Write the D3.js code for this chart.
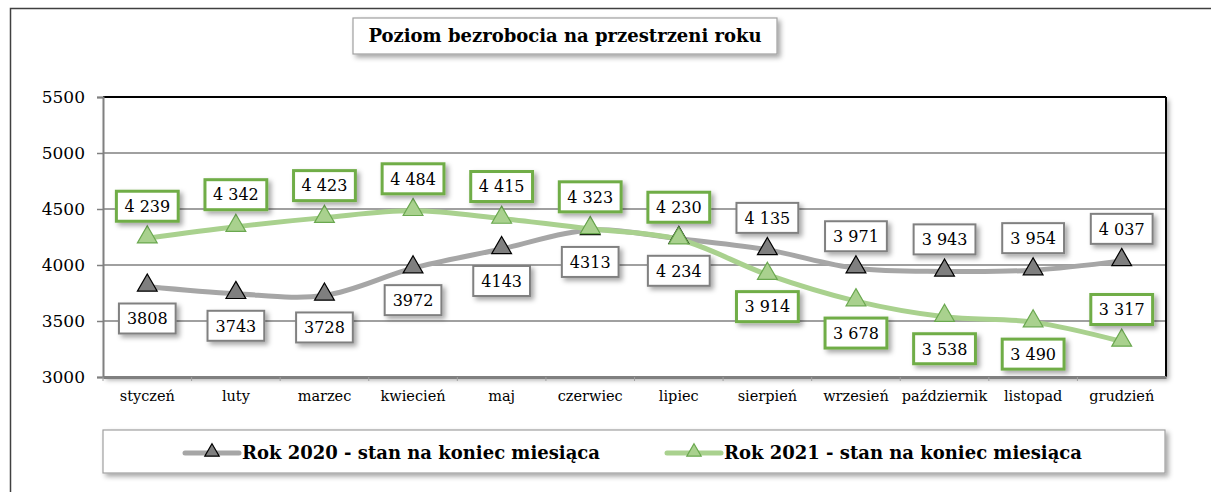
<!DOCTYPE html>
<html>
<head>
<meta charset="utf-8">
<script src="https://cdn.jsdelivr.net/npm/d3@7"></script>
<style>
  body { margin: 0; background: #fff; }
  svg { display: block; }
  svg text { font-family: "DejaVu Serif", "Liberation Serif", serif; fill: #000; }
</style>
</head>
<body>
<script>
// dane
var months = ["styczeń", "luty", "marzec", "kwiecień", "maj", "czerwiec", "lipiec", "sierpień", "wrzesień", "październik", "listopad", "grudzień"];
var values2020 = [3808, 3743, 3728, 3972, 4143, 4313, 4234, 4135, 3971, 3943, 3954, 4037];
var values2021 = [4239, 4342, 4423, 4484, 4415, 4323, 4230, 3914, 3678, 3538, 3490, 3317];
var labels2020 = ["3808", "3743", "3728", "3972", "4143", "4313", "4 234", "4 135", "3 971", "3 943", "3 954", "4 037"];
var labels2021 = ["4 239", "4 342", "4 423", "4 484", "4 415", "4 323", "4 230", "3 914", "3 678", "3 538", "3 490", "3 317"];
// 1 = etykieta nad punktem, -1 = pod punktem
var side2020 = [-1, -1, -1, -1, -1, -1, -1, 1, 1, 1, 1, 1];
var side2021 = [1, 1, 1, 1, 1, 1, 1, -1, -1, -1, -1, 1];
var yTicks = [3000, 3500, 4000, 4500, 5000, 5500];
var title = "Poziom bezrobocia na przestrzeni roku";
var seriesNames = ["Rok 2020 - stan na koniec miesiąca", "Rok 2021 - stan na koniec miesiąca"];

var W = 1211, H = 492;
var plot = {left: 103, top: 97, right: 1166, bottom: 377};
var SERIF = '"DejaVu Serif", "Liberation Serif", serif';

var svg = d3.select("body").append("svg").attr("width", W).attr("height", H);

var defs = svg.append("defs");
var f = defs.append("filter").attr("id", "shadow").attr("x", "-20%").attr("y", "-30%").attr("width", "150%").attr("height", "180%");
f.append("feDropShadow").attr("dx", 3).attr("dy", 3).attr("stdDeviation", 2.5).attr("flood-color", "#000").attr("flood-opacity", 0.35);

// ramka zewnętrzna
svg.append("rect").attr("x", 10.5).attr("y", 8.5).attr("width", 1220).attr("height", 500)
  .attr("fill", "#fff").attr("stroke", "#404040").attr("stroke-width", 1.5);

var x = d3.scaleBand().domain(months).range([plot.left, plot.right]);
var y = d3.scaleLinear().domain([3000, 5500]).range([plot.bottom, plot.top]);
var cx = function (m) { return x(m) + x.bandwidth() / 2; };

// obszar wykresu z cieniem
svg.append("rect").attr("x", plot.left).attr("y", plot.top)
  .attr("width", plot.right - plot.left).attr("height", plot.bottom - plot.top)
  .attr("fill", "#fff").attr("filter", "url(#shadow)");

// linie siatki
svg.append("g").selectAll("line").data(yTicks.filter(function (t) { return t > 3000 && t < 5500; }))
  .enter().append("line")
  .attr("x1", plot.left).attr("x2", plot.right)
  .attr("y1", function (d) { return y(d); }).attr("y2", function (d) { return y(d); })
  .attr("stroke", "#808080").attr("stroke-width", 1.5);

// górna i prawa krawędź
svg.append("line").attr("x1", plot.left).attr("x2", plot.right).attr("y1", y(5500)).attr("y2", y(5500))
  .attr("stroke", "#000").attr("stroke-width", 2);
svg.append("line").attr("x1", plot.right).attr("x2", plot.right).attr("y1", plot.top).attr("y2", plot.bottom)
  .attr("stroke", "#000").attr("stroke-width", 2);

// oś Y
var yAxis = svg.append("g").attr("transform", "translate(" + plot.left + ",0)")
  .call(d3.axisLeft(y).tickValues(yTicks).tickSize(6).tickPadding(12).tickFormat(d3.format("d")));
yAxis.attr("font-family", SERIF);
yAxis.select(".domain").attr("stroke", "#808080").attr("stroke-width", 2);
yAxis.selectAll(".tick line").attr("stroke", "#808080").attr("stroke-width", 1.5);
yAxis.selectAll("text").style("font-size", "17px").attr("fill", "#000");

// oś X
var xAxis = svg.append("g").attr("transform", "translate(0," + plot.bottom + ")")
  .call(d3.axisBottom(x).tickSize(4).tickPadding(10).tickSizeOuter(0));
xAxis.attr("font-family", SERIF);
xAxis.select(".domain").attr("stroke", "#808080").attr("stroke-width", 3);
xAxis.selectAll(".tick line").attr("stroke", "#a0a0a0").attr("stroke-width", 1)
  .attr("transform", "translate(" + (-x.bandwidth() / 2) + ",0)");
xAxis.selectAll("text").style("font-size", "14.5px").attr("fill", "#000");

// serie
var series = [
  {values: values2020, labels: labels2020, side: side2020, line: "#a6a6a6", fill: "#7f7f7f", stroke: "#000", box: "#808080", boxW: 2},
  {values: values2021, labels: labels2021, side: side2021, line: "#a9d18e", fill: "#a9d18e", stroke: "#6aa84f", box: "#70ad47", boxW: 3}
];

var lineGen = d3.line()
  .x(function (d, i) { return cx(months[i]); })
  .y(function (d) { return y(d); })
  .curve(d3.curveCatmullRom.alpha(0.5));

series.forEach(function (s) {
  svg.append("path").datum(s.values).attr("d", lineGen)
    .attr("fill", "none").attr("stroke", s.line).attr("stroke-width", 5).attr("stroke-linecap", "round");
});

var tri = d3.symbol().type(d3.symbolTriangle).size(170);
series.forEach(function (s) {
  svg.append("g").selectAll("path").data(s.values).enter().append("path")
    .attr("d", tri)
    .attr("transform", function (d, i) { return "translate(" + cx(months[i]) + "," + (y(d) - 1) + ")"; })
    .attr("fill", s.fill).attr("stroke", s.stroke).attr("stroke-width", 1.2);
});

// etykiety danych
series.forEach(function (s) {
  var g = svg.append("g").selectAll("g").data(s.values).enter().append("g")
    .attr("transform", function (d, i) { return "translate(" + cx(months[i]) + "," + (y(d) - s.side[i] * 32) + ")"; });
  g.append("text").attr("text-anchor", "middle").attr("dy", "0.36em")
    .style("font-size", "16px")
    .text(function (d, i) { return s.labels[i]; });
  g.insert("rect", "text")
    .attr("x", function () { var w = this.parentNode.querySelector("text").getBBox().width; return -w / 2 - 8; })
    .attr("width", function () { return this.parentNode.querySelector("text").getBBox().width + 16; })
    .attr("y", -15).attr("height", 30)
    .attr("fill", "#fff").attr("stroke", s.box).attr("stroke-width", s.boxW)
    .attr("filter", "url(#shadow)");
});

// tytuł
var tg = svg.append("g").attr("transform", "translate(565,36)");
tg.append("rect").attr("x", -212).attr("y", -18).attr("width", 424).attr("height", 36)
  .attr("fill", "#fff").attr("stroke", "#a0a0a0").attr("stroke-width", 1.2).attr("filter", "url(#shadow)");
tg.append("text").attr("text-anchor", "middle").attr("dy", "0.36em")
  .style("font-size", "18px").style("font-weight", "bold").text(title);

// legenda
var lg = svg.append("g");
lg.append("rect").attr("x", 103).attr("y", 430).attr("width", 1062).attr("height", 43)
  .attr("fill", "#fff").attr("stroke", "#a0a0a0").attr("stroke-width", 1.2).attr("filter", "url(#shadow)");
var legendX = [185, 667];
var triSmall = d3.symbol().type(d3.symbolTriangle).size(90);
series.forEach(function (s, i) {
  var g = lg.append("g").attr("transform", "translate(" + legendX[i] + ",453)");
  g.append("line").attr("x1", 0).attr("x2", 54).attr("y1", 0).attr("y2", 0)
    .attr("stroke", s.line).attr("stroke-width", 5).attr("stroke-linecap", "round");
  g.append("path").attr("d", triSmall).attr("transform", "translate(27,-1)")
    .attr("fill", s.fill).attr("stroke", s.stroke).attr("stroke-width", 1.2);
  g.append("text").attr("x", 57).attr("dy", "0.36em")
    .style("font-size", "18px").style("font-weight", "bold").text(seriesNames[i]);
});
</script>
</body>
</html>
